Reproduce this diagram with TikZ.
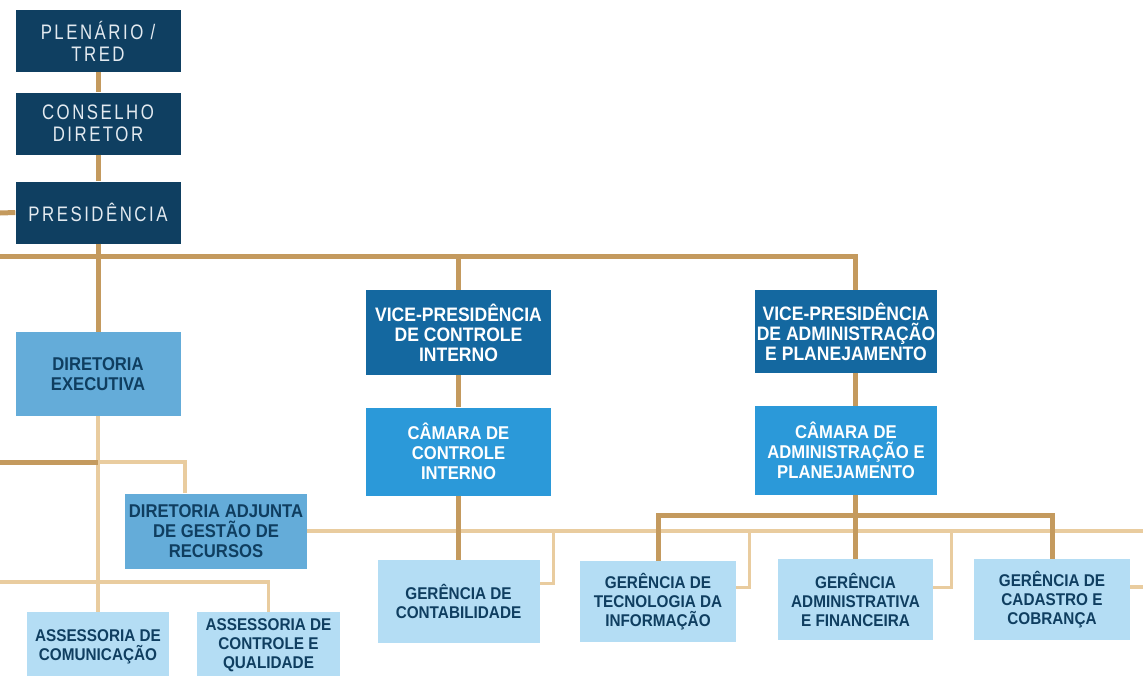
\documentclass[tikz,border=0pt]{standalone}
\usepackage{fontspec}
\setmainfont{Liberation Sans}
\newfontfamily\topfont[FakeStretch=0.8,LetterSpace=12]{Liberation Sans}
\newfontfamily\boxfont[FakeStretch=0.9]{Liberation Sans}
\usepackage{xcolor}
\usepackage{tikz}

\definecolor{navy}{HTML}{0F3F61}
\definecolor{toptxt}{HTML}{E3EAF0}
\definecolor{vpblue}{HTML}{1468A0}
\definecolor{cmblue}{HTML}{2B99D9}
\definecolor{dirblue}{HTML}{64ACD9}
\definecolor{lightblue}{HTML}{B4DDF4}
\definecolor{darktxt}{HTML}{0F3E60}
\definecolor{goldD}{HTML}{C49A5E}
\definecolor{goldL}{HTML}{E9CC9F}

\tikzset{
  unit/.style={rectangle, inner sep=0pt, align=center},
  topbox/.style={unit, fill=navy, text=toptxt, minimum width=165, minimum height=62,
    font=\topfont\fontsize{21}{22}\selectfont},
  vpbox/.style={unit, fill=vpblue, text=white, minimum height=85,
    font=\boxfont\bfseries\fontsize{19.5}{20}\selectfont},
  cmbox/.style={unit, fill=cmblue, text=white, minimum height=88,
    font=\boxfont\bfseries\fontsize{18.5}{20}\selectfont},
  dirbox/.style={unit, fill=dirblue, text=darktxt,
    font=\boxfont\bfseries\fontsize{18.5}{20}\selectfont},
  gerbox/.style={unit, fill=lightblue, text=darktxt, minimum width=156, minimum height=81,
    font=\boxfont\bfseries\fontsize{17}{19}\selectfont},
  linkD/.style={draw=goldD, line width=5pt},
  linkL/.style={draw=goldL, line width=3.2pt},
}

\begin{document}
\begin{tikzpicture}[x=1pt,y=-1pt]

	\useasboundingbox (0,0) rectangle (1143,675);
	\clip (0,0) rectangle (1143,675);

	% top of the chart
	\node[topbox] (plen) at (98,41) {PLENÁRIO /\\TRED};
	\node[topbox] (cons) at (98,123.5) {CONSELHO\\DIRETOR};
	\node[topbox] (pres) at (98,212.5) {PRESIDÊNCIA};

	% vice-presidencies
	\node[vpbox, minimum width=185] (vpc) at (458.5,332.5) {VICE-PRESIDÊNCIA\\DE CONTROLE\\INTERNO};
	\node[cmbox, minimum width=185] (cci) at (458.5,451.5) {CÂMARA DE\\CONTROLE\\INTERNO};
	\node[vpbox, minimum width=182, minimum height=83] (vpa) at (846,331.5) {VICE-PRESIDÊNCIA\\DE ADMINISTRAÇÃO\\E PLANEJAMENTO};
	\node[cmbox, minimum width=182, minimum height=89] (cap) at (846,450.5) {CÂMARA DE\\ADMINISTRAÇÃO E\\PLANEJAMENTO};

	% directorates
	\node[dirbox, minimum width=165, minimum height=84] (dirx) at (98,374) {DIRETORIA\\EXECUTIVA};
	\node[dirbox, minimum width=182, minimum height=75] (dadj) at (216,531) {DIRETORIA ADJUNTA\\DE GESTÃO DE\\RECURSOS};

	% managements
	\node[gerbox, minimum width=162, minimum height=83] (gcont) at (458.5,601.5) {GERÊNCIA DE\\CONTABILIDADE};
	\node[gerbox] (gti) at (658,601.5) {GERÊNCIA DE\\TECNOLOGIA DA\\INFORMAÇÃO};
	\node[gerbox, minimum width=155] (gaf) at (855.5,599.5) {GERÊNCIA\\ADMINISTRATIVA\\E FINANCEIRA};
	\node[gerbox] (gcc) at (1052,599.5) {GERÊNCIA DE\\CADASTRO E\\COBRANÇA};
	\node[gerbox, minimum width=142, minimum height=70] (ascom) at (98,647) {ASSESSORIA DE\\COMUNICAÇÃO};
	\node[gerbox, minimum width=143, minimum height=66] (acq) at (268.5,645) {ASSESSORIA DE\\CONTROLE E\\QUALIDADE};

	% loose ends at the edges
	\coordinate (eP) at (0,213);
	\coordinate (eV) at (0,256);
	\coordinate (eD) at (0,462);
	\coordinate (eA) at (0,582);
	\coordinate (eR) at (1143,531);
	\coordinate (eC) at (1143,587);
	\coordinate (split) at (855.5,515);

	% light links
	\draw[linkL] (dirx.south) -- (ascom.north);
	\draw[linkL] (dirx.south |- eD) -| ([xshift=-31pt]dadj.north);
	\draw[linkL] (eA) -| (acq.north);
	\draw[linkL] (dadj.east) -- (eR);
	\draw[linkL] ([xshift=14pt]gcont.east |- eR) |- ([yshift=18pt]gcont.east);
	\draw[linkL] ([xshift=13pt]gti.east |- eR) |- ([yshift=14pt]gti.east);
	\draw[linkL] ([xshift=18pt]gaf.east |- eR) |- ([yshift=12pt]gaf.east);
	\draw[linkL] (eC -| gcc.east) -- (eC);

	% dark links
	\draw[linkD] (plen.south) -- (cons.north);
	\draw[linkD] (cons.south) -- (pres.north);
	\draw[linkD] (eP) -- (pres.west);
	\draw[linkD] (pres.south) -- (dirx.north);
	\draw[linkD] (eV) -| (gaf.north |- vpa.north);
	\draw[linkD] (vpc.north) -- (vpc.north |- eV);
	\draw[linkD] (vpc.south) -- (cci.north);
	\draw[linkD] (cci.south) -- (gcont.north);
	\draw[linkD] (gaf.north |- vpa.south) -- (gaf.north |- cap.north);
	\draw[linkD] (gaf.north |- cap.south) -- (gaf.north);
	\draw[linkD] (gti.north) |- (split) -| (gcc.north);
	\draw[linkD] (eD) -- (dirx.south |- eD);

\end{tikzpicture}
\end{document}
